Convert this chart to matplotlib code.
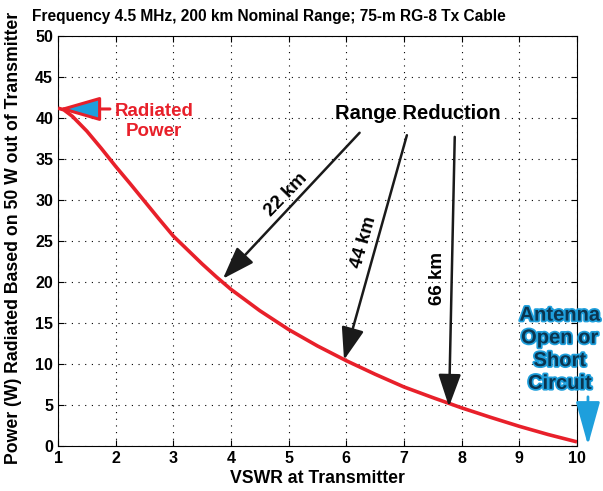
import numpy as np
import matplotlib
matplotlib.use("Agg")
import matplotlib.pyplot as plt
import matplotlib.patheffects as pe

# ---------------- DATA ----------------
vswr = [1.0, 1.1, 1.25, 1.5, 1.75, 2.0, 2.25, 2.5, 2.75, 3.0, 3.25, 3.5, 3.75,
        4.0, 4.5, 5.0, 5.5, 6.0, 6.5, 7.0, 7.5, 8.0, 8.5, 9.0, 9.5, 10.0]
power = [41.2, 41.0, 40.2, 38.4, 36.3, 34.1, 32.0, 29.85, 27.7, 25.6, 23.9, 22.2, 20.6,
         19.1, 16.5, 14.2, 12.2, 10.4, 8.75, 7.2, 5.9, 4.65, 3.5, 2.4, 1.4, 0.5]

# range reduction arrows: label, tail (x, y), head (x, y), label pos, label rotation
reductions = ["22 km", "44 km", "66 km"]
tails = [(6.23, 38.2), (7.05, 37.9), (7.88, 37.7)]
heads = [(3.86, 20.4), (5.96, 10.5), (7.78, 4.8)]
label_pos = [(4.95, 30.6), (6.3, 24.8), (7.58, 20.4)]
label_rot = [46, 74, 90]

TITLE = "Frequency 4.5 MHz, 200 km Nominal Range; 75-m RG-8 Tx Cable"
XLABEL = "VSWR at Transmitter"
YLABEL = "Power (W) Radiated Based on 50 W out of Transmitter"

RED = "#e8202a"
BLUE = "#1e9fdc"
DARKBLUE = "#0b3550"

plt.rcParams['font.family'] = ['Liberation Sans', 'DejaVu Sans']
plt.rcParams['font.weight'] = 'bold'

# ---------------- FIGURE ----------------
fig = plt.figure(figsize=(6.03, 4.91), dpi=100)
ax = fig.add_axes([58 / 603, 1 - 446 / 491, 519 / 603, 410 / 491])

ax.plot(vswr, power, color=RED, lw=2.6, solid_capstyle='butt', zorder=3)

ax.set_xlim(1, 10)
ax.set_ylim(0, 50)
ax.set_xticks(range(1, 11))
ax.set_yticks(range(0, 51, 5))
ax.tick_params(direction='in', top=True, right=True, labelsize=11.5, length=4, width=0.8)
for lab in ax.get_xticklabels() + ax.get_yticklabels():
    lab.set_fontweight('bold')
ax.grid(True, color='black', lw=0.8, linestyle=(0, (1, 5)))
for s in ax.spines.values():
    s.set_linewidth(0.8)

ax.set_xlabel(XLABEL, fontsize=12.7, fontweight='bold', labelpad=3)
fig.text(14 / 603, 1 - 238 / 491, YLABEL, fontsize=12.7, fontweight='bold',
         rotation=90, ha='center', va='center')
fig.text(32 / 603, 1 - 16 / 491, TITLE, fontsize=11.2, fontweight='bold',
         ha='left', va='center')

# range reduction arrows
for lab, t, h, p, r in zip(reductions, tails, heads, label_pos, label_rot):
    ax.annotate("", xy=h, xytext=t,
                arrowprops=dict(arrowstyle='-|>,head_length=2.0,head_width=0.7',
                                color='#1a1a1a', lw=1.8, shrinkA=0, shrinkB=0))
    ax.text(p[0], p[1], lab, rotation=r, fontsize=13.5, fontweight='bold',
            ha='center', va='center', rotation_mode='anchor')

ax.text(7.24, 40.6, "Range Reduction", fontsize=14.5, fontweight='bold',
        ha='center', va='center')

# radiated power label
ax.annotate("", xy=(1.0, 41.1), xytext=(1.9, 41.1),
            arrowprops=dict(arrowstyle='-|>,head_length=2.6,head_width=0.75',
                            fc=BLUE, ec=RED, lw=2.2, shrinkA=0, shrinkB=0),
            annotation_clip=False, zorder=4)
ax.text(2.67, 39.6, "Radiated\nPower", color=RED, fontsize=13.5, fontweight='bold',
        ha='center', va='center', linespacing=1.25)

# antenna open/short label
ax.text(9.70, 11.8, "Antenna\nOpen or\nShort\nCircuit", color=DARKBLUE, fontsize=14.5,
        fontweight='bold', ha='center', va='center', linespacing=1.25, zorder=5,
        path_effects=[pe.withStroke(linewidth=2.5, foreground=BLUE)])
ax.annotate("", xy=(10.19, 0.1), xytext=(10.19, 6.0),
            arrowprops=dict(arrowstyle='-|>,head_length=2.7,head_width=0.75',
                            color=BLUE, lw=2.0, shrinkA=0, shrinkB=0),
            annotation_clip=False)

fig.savefig("out.png", dpi=100)
